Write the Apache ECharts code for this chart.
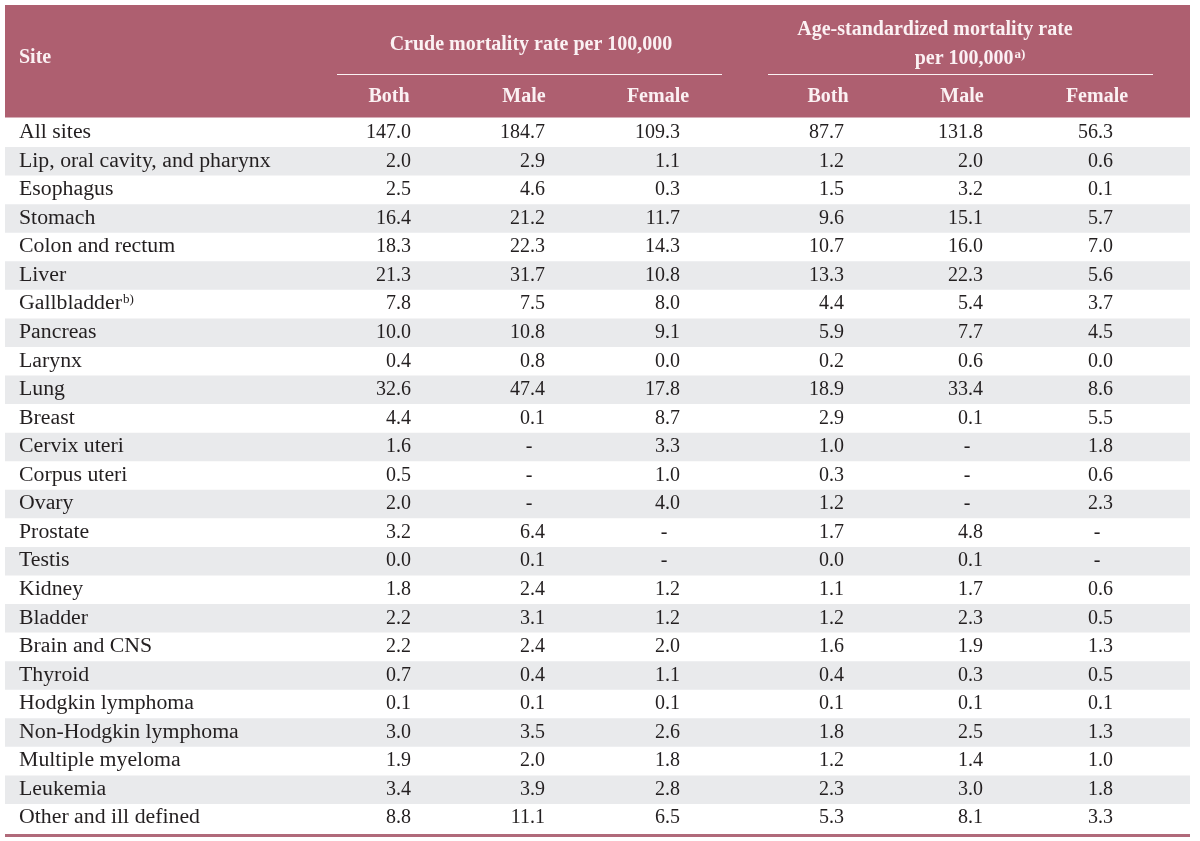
<!DOCTYPE html>
<html>
<head>
<meta charset="utf-8">
<script src="https://cdn.jsdelivr.net/npm/echarts@6/dist/echarts.min.js"></script>
<style>
html,body{margin:0;padding:0;background:#fff;}
#chart{width:1200px;height:841px;}
</style>
</head>
<body>
<div id="chart"></div>
<script>
// ---- data ----
const sites = ["All sites","Lip, oral cavity, and pharynx","Esophagus","Stomach","Colon and rectum","Liver","Gallbladder","Pancreas","Larynx","Lung","Breast","Cervix uteri","Corpus uteri","Ovary","Prostate","Testis","Kidney","Bladder","Brain and CNS","Thyroid","Hodgkin lymphoma","Non-Hodgkin lymphoma","Multiple myeloma","Leukemia","Other and ill defined"];
const siteNotes = {"Gallbladder":"b)"};
const crudeBoth   = [147.0,2.0,2.5,16.4,18.3,21.3,7.8,10.0,0.4,32.6,4.4,1.6,0.5,2.0,3.2,0.0,1.8,2.2,2.2,0.7,0.1,3.0,1.9,3.4,8.8];
const crudeMale   = [184.7,2.9,4.6,21.2,22.3,31.7,7.5,10.8,0.8,47.4,0.1,null,null,null,6.4,0.1,2.4,3.1,2.4,0.4,0.1,3.5,2.0,3.9,11.1];
const crudeFemale = [109.3,1.1,0.3,11.7,14.3,10.8,8.0,9.1,0.0,17.8,8.7,3.3,1.0,4.0,null,null,1.2,1.2,2.0,1.1,0.1,2.6,1.8,2.8,6.5];
const asrBoth     = [87.7,1.2,1.5,9.6,10.7,13.3,4.4,5.9,0.2,18.9,2.9,1.0,0.3,1.2,1.7,0.0,1.1,1.2,1.6,0.4,0.1,1.8,1.2,2.3,5.3];
const asrMale     = [131.8,2.0,3.2,15.1,16.0,22.3,5.4,7.7,0.6,33.4,0.1,null,null,null,4.8,0.1,1.7,2.3,1.9,0.3,0.1,2.5,1.4,3.0,8.1];
const asrFemale   = [56.3,0.6,0.1,5.7,7.0,5.6,3.7,4.5,0.0,8.6,5.5,1.8,0.6,2.3,null,null,0.6,0.5,1.3,0.5,0.1,1.3,1.0,1.8,3.3];
const groupTitles = ["Crude mortality rate per 100,000","Age-standardized mortality rate","per 100,000"];
const groupNote = "a)";
const subHeaders = ["Both","Male","Female","Both","Male","Female"];
const siteHeader = "Site";

// ---- layout / style ----
const FONT = '"Liberation Serif", "DejaVu Serif", serif';
const FS = 20;
const SITE_SCALE = 1.09;
const HEAD = '#ae5f70';
const HEAD_TXT = '#fbf1f3';
const STRIPE = '#e9eaec';
const TXT = '#231f20';
const siteX = 19;
const colRight = [411, 545, 680, 844, 983, 1113];
const headCenter = [389, 524, 658, 828, 962, 1097];
const tableLeft = 5, tableRight = 1190;

const valueCols = [crudeBoth, crudeMale, crudeFemale, asrBoth, asrMale, asrFemale];
const cellData = [];
sites.forEach((s, r) => {
  cellData.push([0, r]);
  valueCols.forEach((col, c) => cellData.push([c + 1, r]));
});
const stripeData = sites.map((s, r) => [0, r]);

const chart = echarts.init(document.getElementById('chart'), null, {renderer: 'canvas'});

const option = {
  animation: false,
  backgroundColor: '#ffffff',
  grid: {left: 0, right: 0, top: 118.5, bottom: 8.5, containLabel: false},
  xAxis: {type: 'value', min: 0, max: 1200, show: false},
  yAxis: {type: 'category', data: sites, inverse: true, show: false},
  graphic: [
    {type: 'rect', shape: {x: tableLeft, y: 5, width: tableRight - tableLeft, height: 112.5}, style: {fill: HEAD}, z: 0, silent: true},
    {type: 'text', x: siteX, y: 58, style: {text: siteHeader, font: 'bold ' + FS + 'px ' + FONT, fill: HEAD_TXT, textAlign: 'left', textVerticalAlign: 'middle'}},
    {type: 'text', x: 531, y: 45, style: {text: groupTitles[0], font: 'bold ' + FS + 'px ' + FONT, fill: HEAD_TXT, textAlign: 'center', textVerticalAlign: 'middle'}},
    {type: 'text', x: 935, y: 30, style: {text: groupTitles[1], font: 'bold ' + FS + 'px ' + FONT, fill: HEAD_TXT, textAlign: 'center', textVerticalAlign: 'middle'}},
    {type: 'text', x: 970, y: 59, style: {
      text: '{t|' + groupTitles[2] + '}{s|' + groupNote + '}',
      textAlign: 'center', textVerticalAlign: 'middle',
      rich: {
        t: {font: 'bold ' + FS + 'px ' + FONT, fill: HEAD_TXT, color: HEAD_TXT},
        s: {font: 'bold 13px ' + FONT, fill: HEAD_TXT, color: HEAD_TXT, padding: [0, 0, 9, 1]}
      }
    }},
    {type: 'line', shape: {x1: 337, y1: 74.5, x2: 722, y2: 74.5}, style: {stroke: HEAD_TXT, lineWidth: 1}},
    {type: 'line', shape: {x1: 768, y1: 74.5, x2: 1153, y2: 74.5}, style: {stroke: HEAD_TXT, lineWidth: 1}},
    ...subHeaders.map((h, i) => ({type: 'text', x: headCenter[i], y: 97, style: {text: h, font: 'bold ' + FS + 'px ' + FONT, fill: HEAD_TXT, textAlign: 'center', textVerticalAlign: 'middle'}})),
    {type: 'rect', shape: {x: tableLeft, y: 834, width: tableRight - tableLeft, height: 3}, style: {fill: '#b06a7a'}, silent: true}
  ],
  series: [
    {
      type: 'custom',
      z: 1,
      silent: true,
      data: stripeData,
      renderItem: function (params, api) {
        const r = api.value(1);
        if (r % 2 === 0) return null;
        const p = api.coord([tableLeft, r]);
        const p2 = api.coord([tableRight, r]);
        const h = api.size([0, 1])[1];
        return {type: 'rect', shape: {x: p[0], y: p[1] - h / 2, width: p2[0] - p[0], height: h}, style: {fill: STRIPE}};
      }
    },
    {
      type: 'custom',
      z: 2,
      silent: true,
      data: cellData,
      renderItem: function (params, api) {
        const c = api.value(0), r = api.value(1);
        if (c === 0) {
          const p = api.coord([siteX, r]);
          const name = sites[r];
          const note = siteNotes[name];
          if (note) {
            return {type: 'text', x: p[0], y: p[1], scaleX: SITE_SCALE, style: {
              text: '{t|' + name + '}{s|' + note + '}',
              textAlign: 'left', textVerticalAlign: 'middle',
              rich: {
                t: {font: FS + 'px ' + FONT, fill: TXT, color: TXT},
                s: {font: '12px ' + FONT, fill: TXT, color: TXT, padding: [0, 0, 9, 1]}
              }
            }};
          }
          return {type: 'text', x: p[0], y: p[1], scaleX: SITE_SCALE, style: {text: name, font: FS + 'px ' + FONT, fill: TXT, textAlign: 'left', textVerticalAlign: 'middle'}};
        }
        const v = valueCols[c - 1][r];
        if (v === null) {
          const p = api.coord([colRight[c - 1] - 16, r]);
          return {type: 'text', x: p[0], y: p[1], style: {text: '-', font: FS + 'px ' + FONT, fill: TXT, textAlign: 'center', textVerticalAlign: 'middle'}};
        }
        const p = api.coord([colRight[c - 1], r]);
        return {type: 'text', x: p[0], y: p[1], style: {text: v.toFixed(1), font: FS + 'px ' + FONT, fill: TXT, textAlign: 'right', textVerticalAlign: 'middle'}};
      }
    }
  ]
};
chart.setOption(option);
</script>
</body>
</html>
